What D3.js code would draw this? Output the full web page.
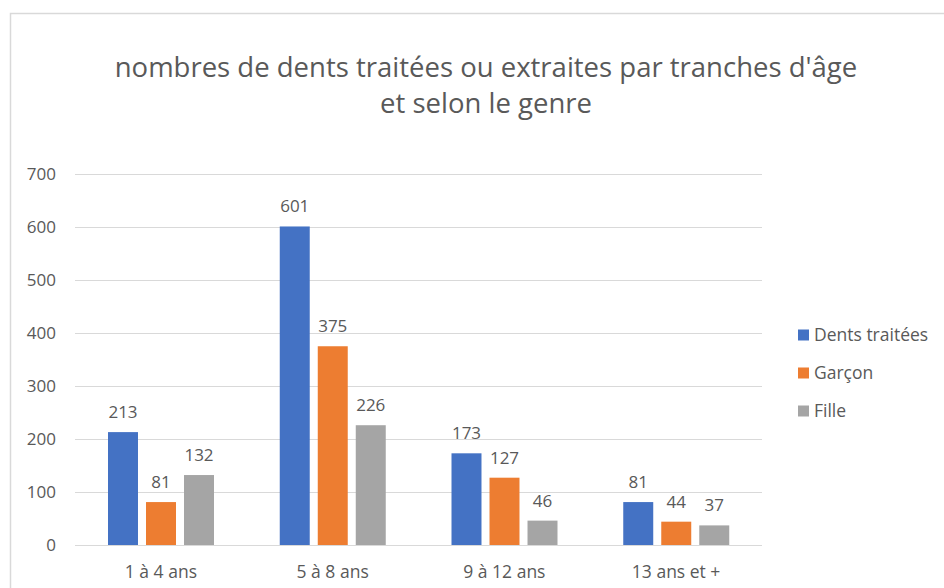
<!doctype html>
<html>
<head>
    <meta charset="UTF-8">
    <title>dents</title>
    <script src="https://d3js.org/d3.v7.min.js"></script>
    <style>
        body { margin:0; background:#fff; }
        text { font-family:"Open Sans", sans-serif; fill:#595959; }
    </style>
</head>
<body>
    <script>
        var w=944, h=588;
        var categories=["1 à 4 ans", "5 à 8 ans", "9 à 12 ans", "13 ans et +"];
        var series=["Dents traitées", "Garçon", "Fille"];
        var dentsTraitees=[213, 601, 173, 81];
        var garcon=[81, 375, 127, 44];
        var fille=[132, 226, 46, 37];
        var yTicks=[0, 100, 200, 300, 400, 500, 600, 700];
        var colors=["#4472C4", "#ED7D31", "#A5A5A5"];
        var titleLines=["nombres de dents traitées ou extraites par tranches d'âge", "et selon le genre"];

        var values=[dentsTraitees, garcon, fille];

        var svg=d3.select("body").append("svg").attr("width", w).attr("height", h);

        // cadre
        svg.append("rect")
            .attr("x", 10.5).attr("y", 13.5)
            .attr("width", w).attr("height", h)
            .attr("fill", "none").attr("stroke", "#d9d9d9").attr("stroke-width", 1.5);

        // titre
        svg.selectAll(".title").data(titleLines).enter().append("text")
            .attr("class", "title")
            .attr("x", 486)
            .attr("y", function(d,i){ return 77+i*36; })
            .attr("text-anchor", "middle")
            .style("font-size", "27.5px")
            .text(function(d){ return d; });

        var x0=d3.scaleBand().domain(categories).range([75, 762]);
        var x1=d3.scaleBand().domain(series).range([33, 139]).paddingInner(0.211);
        var y=d3.scaleLinear().domain([0, 700]).range([545, 174]);

        // grille
        svg.append("g").selectAll("line").data(yTicks).enter().append("line")
            .attr("x1", 75).attr("x2", 762)
            .attr("y1", function(d){ return y(d)+0.5; })
            .attr("y2", function(d){ return y(d)+0.5; })
            .attr("stroke", "#d9d9d9").attr("stroke-width", 1.2);

        var yAxis=svg.append("g").attr("transform", "translate(56,0)")
            .call(d3.axisLeft(y).tickValues(yTicks).tickSize(0).tickPadding(0));
        yAxis.select(".domain").remove();
        yAxis.selectAll("text").style("font-size", "17px").attr("fill", "#595959").attr("dy", "0.35em");

        var xAxis=svg.append("g").attr("transform", "translate(0,545)")
            .call(d3.axisBottom(x0).tickSize(0).tickPadding(0));
        xAxis.select(".domain").remove();
        xAxis.selectAll("text").style("font-size", "17.5px").attr("fill", "#595959").attr("y", 33).attr("dy", 0);

        // barres
        var groups=svg.append("g").selectAll("g").data(categories).enter().append("g")
            .attr("transform", function(d){ return "translate("+x0(d)+",0)"; });

        groups.selectAll("rect").data(function(d,i){
                return series.map(function(s,j){ return {s:s, v:values[j][i], j:j}; });
            }).enter().append("rect")
            .attr("x", function(d){ return x1(d.s); })
            .attr("y", function(d){ return y(d.v); })
            .attr("width", x1.bandwidth())
            .attr("height", function(d){ return y(0)-y(d.v); })
            .attr("fill", function(d){ return colors[d.j]; });

        groups.selectAll("text").data(function(d,i){
                return series.map(function(s,j){ return {s:s, v:values[j][i], j:j}; });
            }).enter().append("text")
            .attr("x", function(d){ return x1(d.s)+x1.bandwidth()/2; })
            .attr("y", function(d){ return y(d.v)-14; })
            .attr("text-anchor", "middle")
            .style("font-size", "17px")
            .attr("fill", "#404040")
            .text(function(d){ return d.v; });

        // légende
        var legend=svg.append("g").selectAll("g").data(series).enter().append("g")
            .attr("transform", function(d,i){ return "translate(798,"+(335+i*38)+")"; });
        legend.append("rect")
            .attr("x", 0).attr("y", -5.5).attr("width", 11).attr("height", 11)
            .attr("fill", function(d,i){ return colors[i]; });
        legend.append("text")
            .attr("x", 16).attr("y", 0).attr("dy", "0.35em")
            .style("font-size", "17.5px")
            .text(function(d){ return d; });
    </script>
</body>
</html>
